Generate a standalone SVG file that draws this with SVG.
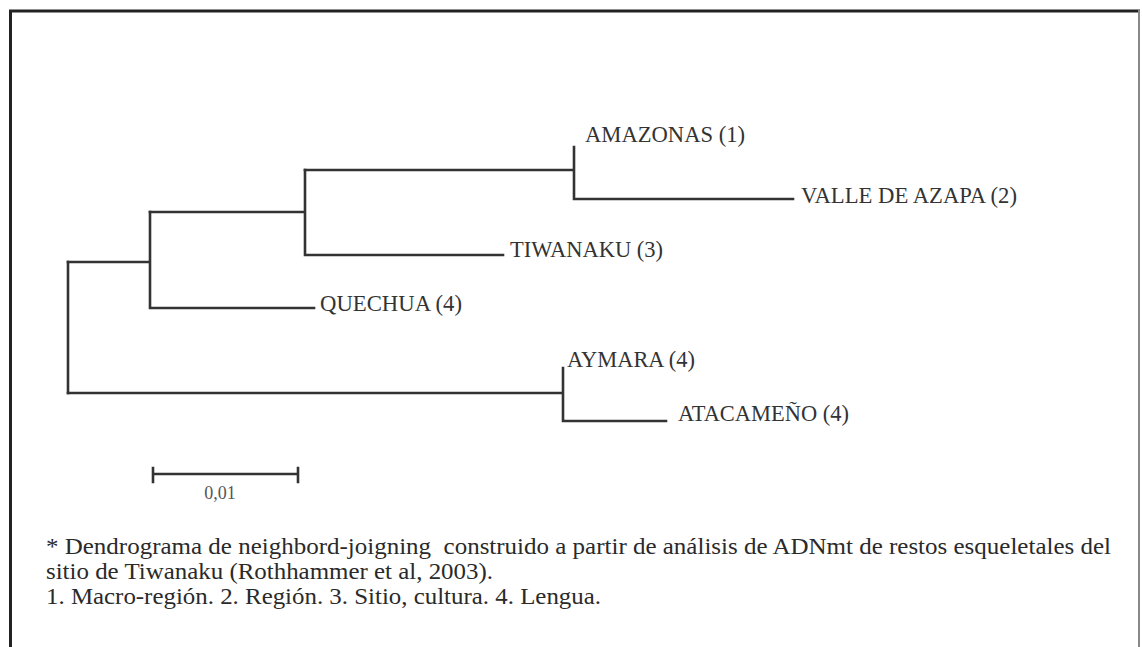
<svg xmlns="http://www.w3.org/2000/svg" width="1142" height="647" viewBox="0 0 1142 647">
<style>
.br{fill:none;stroke:#333;stroke-width:2.6;stroke-linecap:square}
.lb{font-family:Liberation Serif,Times New Roman,serif;font-size:24px;fill:#333}
.cap{font-family:Liberation Serif,Times New Roman,serif;font-size:22.5px;fill:#2a2a2a}
</style>
<rect width="1142" height="647" fill="#fff"/>
<g id="frame">
<line x1="9" y1="11" x2="1140" y2="11" stroke="#222" stroke-width="3"/>
<line x1="10.5" y1="10" x2="10.5" y2="647" stroke="#222" stroke-width="3"/>
<line x1="1139" y1="10" x2="1139" y2="647" stroke="#888" stroke-width="2"/>
</g>
<g id="connectors">
<path class="br" d="M68,262 V393"/>
<path class="br" d="M68,262 H150 M150,212 V308 M150,308 H314"/>
<path class="br" d="M150,212 H305 M305,170 V255 M305,255 H503"/>
<path class="br" d="M305,170 H574 M574,147 V199 M574,199 H793"/>
<path class="br" d="M68,393 H563 M563,368 V421 M563,421 H666"/>
</g>
<g font-family="Liberation Serif,serif">
<g id="amazonas"><text class="lb" x="585" y="142" textLength="160" lengthAdjust="spacingAndGlyphs">AMAZONAS (1)</text></g>
<g id="valle"><text class="lb" x="801" y="203" textLength="216" lengthAdjust="spacingAndGlyphs">VALLE DE AZAPA (2)</text></g>
<g id="tiwanaku"><text class="lb" x="510" y="257" textLength="153" lengthAdjust="spacingAndGlyphs">TIWANAKU (3)</text></g>
<g id="quechua"><text class="lb" x="320" y="311" textLength="142" lengthAdjust="spacingAndGlyphs">QUECHUA (4)</text></g>
<g id="aymara"><text class="lb" x="567" y="367" textLength="128" lengthAdjust="spacingAndGlyphs">AYMARA (4)</text></g>
<g id="atacameno"><text class="lb" x="678" y="421" textLength="171" lengthAdjust="spacingAndGlyphs">ATACAMEÑO (4)</text></g>
</g>
<g id="scale">
<path class="br" d="M153,474 H298 M153,468 V482 M298,468 V482" stroke-width="2"/>
<text x="220" y="499" text-anchor="middle" font-family="Liberation Serif,serif" font-size="18" fill="#555">0,01</text>
</g>
<g id="caption" font-family="Liberation Serif,serif">
<text class="cap" x="46" y="554" xml:space="preserve" textLength="1065" lengthAdjust="spacingAndGlyphs">* Dendrograma de neighbord-joigning  construido a partir de análisis de ADNmt de restos esqueletales del</text>
<text class="cap" x="46" y="579" textLength="447" lengthAdjust="spacingAndGlyphs">sitio de Tiwanaku (Rothhammer et al, 2003).</text>
<text class="cap" x="46" y="604" textLength="555" lengthAdjust="spacingAndGlyphs">1. Macro-región. 2. Región. 3. Sitio, cultura. 4. Lengua.</text>
</g>
</svg>
